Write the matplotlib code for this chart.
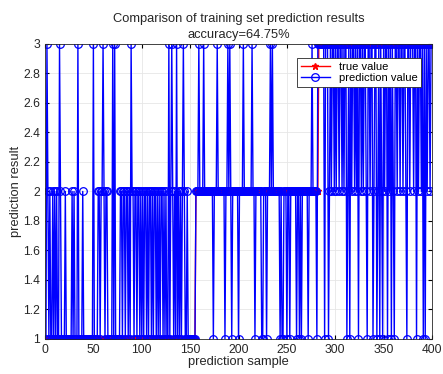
import numpy as np
import matplotlib
matplotlib.use("Agg")
import matplotlib.pyplot as plt

plt.rcParams['font.family'] = ['Liberation Sans', 'DejaVu Sans']

# true class of each training sample (runs of 1, 2, 3)
true_runs = [(1, 155), (2, 127), (3, 118)]
true_value = []
for cls, n in true_runs:
    true_value += [cls] * n

# predicted class
pred_str = (
    "1321211212" "1211321111" "2111111212" "1113111121" "1111111113"
    "1111221223" "2122111113" "1311111221" "2212212132" "2122122121"
    "2122121221" "2122121212" "2121211312" "3212131212" "1232112111"
    "11111222"
    "322223222222"
    "2221222322" "2222212232" "3212222221" "2222322222" "2223221222"
    "2221122212" "2232322222" "2212112221" "2212222221" "2212122222"
    "2122232222" "1"
    "333333313"
    "3312323323" "2332332323" "3123132332" "3231332323" "3213323312"
    "3312313213" "2331323132" "1332332332" "3321332333" "2331323323"
    "1313233233"
)
pred_value = [int(c) for c in pred_str]
samples = np.arange(1, len(true_value) + 1)

fig = plt.figure(figsize=(4.43, 3.74), dpi=100)
ax = fig.add_axes([0.1016, 0.0936, 0.8736, 0.789])

ax.plot(samples, true_value, '-*', color='red', lw=1.0, ms=4.5, label='true value')
ax.plot(samples, pred_value, '-o', color='blue', lw=1.0, ms=5.5, mfc='none',
        mew=0.9, label='prediction value')

ax.set_xlim(0, 400)
ax.set_ylim(1, 3)
ax.set_xticks(np.arange(0, 401, 50))
ax.set_yticks(np.arange(1, 3.01, 0.2))
ax.set_yticklabels(['1', '1.2', '1.4', '1.6', '1.8', '2', '2.2', '2.4', '2.6', '2.8', '3'])
ax.tick_params(direction='in', labelsize=8.7, length=3, top=True, right=True,
               labeltop=False, labelright=False, labelcolor='#262626')
ax.grid(True, color='#e6e6e6', lw=0.6)
ax.set_axisbelow(True)
for s in ax.spines.values():
    s.set_linewidth(0.6)
    s.set_color('#262626')

ax.set_xlabel('prediction sample', fontsize=9.3, labelpad=0, color='#262626')
ax.set_ylabel('prediction result', fontsize=9.3, labelpad=1, color='#262626')
ax.set_title('Comparison of training set prediction results\naccuracy=64.75%',
             fontsize=9.3, pad=4, linespacing=1.45, color='#262626')

leg = ax.legend(loc='upper right', bbox_to_anchor=(0.985, 0.97), fontsize=8,
                fancybox=False, framealpha=1, edgecolor='#262626',
                borderpad=0.3, labelspacing=0.15, handlelength=2.6)
leg.get_frame().set_linewidth(0.6)

fig.savefig('out.png', dpi=100)
